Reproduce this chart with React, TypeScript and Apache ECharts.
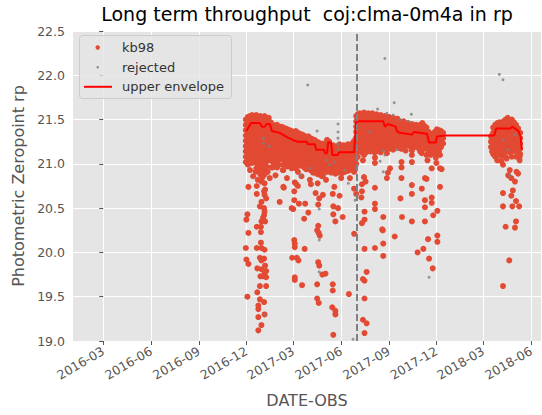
import React, { useEffect, useRef } from "react";
import * as echarts from "echarts";

// ---------- DATA ----------
const xTickLabels = ["2016-03", "2016-06", "2016-09", "2016-12", "2017-03", "2017-06", "2017-09", "2017-12", "2018-03", "2018-06"];
const yTicks = [19.0, 19.5, 20.0, 20.5, 21.0, 21.5, 22.0, 22.5];
const xStartDate = "2016-01-03";
const xEndDate = "2018-06-20";
const cutoverDate = "2017-07-01";

// dense kb98 measurements: [date, values on that night-group]
const kb98Dense: Array<[string, number[]]> = [
  ["2016-11-30", [21.50, 21.44, 21.38, 21.32, 21.26, 21.20, 21.14, 21.08, 21.02]],
  ["2016-12-04", [21.53, 21.47, 21.41, 21.35, 21.29, 21.23, 21.17, 21.11, 21.05, 20.99]],
  ["2016-12-08", [21.54, 21.48, 21.42, 21.36, 21.30, 21.24, 21.18, 21.12, 21.06]],
  ["2016-12-12", [21.55, 21.49, 21.43, 21.37, 21.31, 21.25, 21.19, 21.13, 21.07, 21.01]],
  ["2016-12-16", [21.52, 21.46, 21.40, 21.34, 21.28, 21.22, 21.16, 21.10, 21.04]],
  ["2016-12-20", [21.55, 21.49, 21.43, 21.37, 21.31, 21.25, 21.19, 21.13, 21.07, 21.01, 20.95]],
  ["2016-12-24", [21.52, 21.46, 21.40, 21.34, 21.28, 21.22, 21.16, 21.10, 21.04, 20.98, 20.92]],
  ["2016-12-28", [21.54, 21.48, 21.42, 21.36, 21.30, 21.24, 21.18, 21.12, 21.06, 21.00, 20.94, 20.88]],
  ["2017-01-01", [21.51, 21.45, 21.39, 21.33, 21.27, 21.21, 21.15, 21.09, 21.03, 20.97, 20.91, 20.85]],
  ["2017-01-05", [21.54, 21.48, 21.42, 21.36, 21.30, 21.24, 21.18, 21.12, 21.06, 21.00, 20.94, 20.88]],
  ["2017-01-09", [21.51, 21.45, 21.39, 21.33, 21.27, 21.21, 21.15, 21.09, 21.03, 20.97]],
  ["2017-01-13", [21.52, 21.46, 21.40, 21.34, 21.28, 21.22, 21.16, 21.10, 21.04]],
  ["2017-01-17", [21.47, 21.41, 21.35, 21.29, 21.23, 21.17, 21.11, 21.05]],
  ["2017-01-21", [21.44, 21.38, 21.32, 21.26, 21.20, 21.14, 21.08, 21.02, 20.96]],
  ["2017-01-25", [21.43, 21.37, 21.31, 21.25, 21.19, 21.13, 21.07, 21.01]],
  ["2017-01-29", [21.44, 21.38, 21.32, 21.26, 21.20, 21.14, 21.08, 21.02, 20.96]],
  ["2017-02-02", [21.41, 21.35, 21.29, 21.23, 21.17, 21.11, 21.05, 20.99]],
  ["2017-02-06", [21.42, 21.36, 21.30, 21.24, 21.18, 21.12, 21.06]],
  ["2017-02-10", [21.41, 21.35, 21.29, 21.23, 21.17, 21.11, 21.05, 20.99, 20.93]],
  ["2017-02-14", [21.40, 21.34, 21.28, 21.22, 21.16, 21.10, 21.04]],
  ["2017-02-18", [21.39, 21.33, 21.27, 21.21, 21.15, 21.09, 21.03, 20.97]],
  ["2017-02-22", [21.38, 21.32, 21.26, 21.20, 21.14, 21.08, 21.02]],
  ["2017-02-26", [21.37, 21.31, 21.25, 21.19, 21.13, 21.07, 21.01, 20.95]],
  ["2017-03-02", [21.36, 21.30, 21.24, 21.18, 21.12, 21.06, 21.00]],
  ["2017-03-06", [21.37, 21.31, 21.25, 21.19, 21.13, 21.07, 21.01, 20.95]],
  ["2017-03-10", [21.35, 21.29, 21.23, 21.17, 21.11, 21.05, 20.99]],
  ["2017-03-14", [21.34, 21.28, 21.22, 21.16, 21.10, 21.04, 20.98]],
  ["2017-03-18", [21.33, 21.27, 21.21, 21.15, 21.09, 21.03]],
  ["2017-03-22", [21.32, 21.26, 21.20, 21.14, 21.08, 21.02, 20.96]],
  ["2017-03-26", [21.30, 21.24, 21.18, 21.12, 21.06, 21.00, 20.94]],
  ["2017-03-30", [21.31, 21.25, 21.19, 21.13, 21.07, 21.01, 20.95]],
  ["2017-04-03", [21.29, 21.23, 21.17, 21.11, 21.05, 20.99, 20.93]],
  ["2017-04-07", [21.28, 21.22, 21.16, 21.10, 21.04, 20.98, 20.92]],
  ["2017-04-11", [21.27, 21.21, 21.15, 21.09, 21.03, 20.97, 20.91]],
  ["2017-04-15", [21.25, 21.19, 21.13, 21.07, 21.01, 20.95, 20.89]],
  ["2017-04-19", [21.24, 21.18, 21.12, 21.06, 21.00, 20.94, 20.88]],
  ["2017-04-23", [21.22, 21.16, 21.10, 21.04, 20.98, 20.92]],
  ["2017-04-27", [21.23, 21.17, 21.11, 21.05, 20.99, 20.93, 20.87]],
  ["2017-05-01", [21.22, 21.16, 21.10, 21.04, 20.98, 20.92]],
  ["2017-05-05", [21.27, 21.21, 21.15, 21.09, 21.03, 20.97, 20.91]],
  ["2017-05-09", [21.25, 21.19, 21.13, 21.07, 21.01, 20.95]],
  ["2017-05-13", [21.20, 21.14, 21.08, 21.02, 20.96, 20.90]],
  ["2017-05-17", [21.21, 21.15, 21.09, 21.03, 20.97, 20.91]],
  ["2017-05-21", [21.19, 21.13, 21.07, 21.01, 20.95, 20.89]],
  ["2017-05-25", [21.20, 21.14, 21.08, 21.02, 20.96, 20.90]],
  ["2017-05-29", [21.22, 21.16, 21.10, 21.04, 20.98, 20.92]],
  ["2017-06-02", [21.19, 21.13, 21.07, 21.01, 20.95, 20.89]],
  ["2017-06-06", [21.21, 21.15, 21.09, 21.03, 20.97, 20.91]],
  ["2017-06-10", [21.20, 21.14, 21.08, 21.02, 20.96]],
  ["2017-06-14", [21.22, 21.16, 21.10, 21.04, 20.98, 20.92]],
  ["2017-06-18", [21.21, 21.15, 21.09, 21.03, 20.97]],
  ["2017-06-22", [21.23, 21.17, 21.11, 21.05, 20.99, 20.93]],
  ["2017-06-26", [21.26, 21.20, 21.14, 21.08, 21.02, 20.96]],
  ["2017-06-30", [21.54, 21.48, 21.42, 21.36, 21.30, 21.24, 21.18, 21.12, 21.06, 21.00]],
  ["2017-07-03", [21.56, 21.50, 21.44, 21.38, 21.32, 21.26, 21.20, 21.14, 21.08]],
  ["2017-07-07", [21.57, 21.51, 21.45, 21.39, 21.33, 21.27, 21.21, 21.15]],
  ["2017-07-11", [21.55, 21.49, 21.43, 21.37, 21.31, 21.25, 21.19, 21.13]],
  ["2017-07-15", [21.58, 21.52, 21.46, 21.40, 21.34, 21.28, 21.22, 21.16, 21.10]],
  ["2017-07-19", [21.55, 21.49, 21.43, 21.37, 21.31, 21.25, 21.19, 21.13]],
  ["2017-07-23", [21.57, 21.51, 21.45, 21.39, 21.33, 21.27, 21.21, 21.15]],
  ["2017-07-27", [21.56, 21.50, 21.44, 21.38, 21.32, 21.26, 21.20, 21.14]],
  ["2017-07-31", [21.57, 21.51, 21.45, 21.39, 21.33, 21.27, 21.21, 21.15]],
  ["2017-08-04", [21.55, 21.49, 21.43, 21.37, 21.31, 21.25, 21.19, 21.13]],
  ["2017-08-08", [21.56, 21.50, 21.44, 21.38, 21.32, 21.26, 21.20, 21.14]],
  ["2017-08-12", [21.54, 21.48, 21.42, 21.36, 21.30, 21.24, 21.18]],
  ["2017-08-16", [21.55, 21.49, 21.43, 21.37, 21.31, 21.25, 21.19, 21.13]],
  ["2017-08-20", [21.53, 21.47, 21.41, 21.35, 21.29, 21.23, 21.17]],
  ["2017-08-24", [21.54, 21.48, 21.42, 21.36, 21.30, 21.24, 21.18]],
  ["2017-08-28", [21.52, 21.46, 21.40, 21.34, 21.28, 21.22, 21.16]],
  ["2017-09-01", [21.53, 21.47, 21.41, 21.35, 21.29, 21.23, 21.17]],
  ["2017-09-05", [21.51, 21.45, 21.39, 21.33, 21.27, 21.21]],
  ["2017-09-09", [21.52, 21.46, 21.40, 21.34, 21.28, 21.22, 21.16]],
  ["2017-09-13", [21.50, 21.44, 21.38, 21.32, 21.26, 21.20]],
  ["2017-09-17", [21.51, 21.45, 21.39, 21.33, 21.27, 21.21]],
  ["2017-09-21", [21.48, 21.42, 21.36, 21.30, 21.24, 21.18]],
  ["2017-09-25", [21.47, 21.41, 21.35, 21.29, 21.23, 21.17]],
  ["2017-09-29", [21.48, 21.42, 21.36, 21.30, 21.24, 21.18]],
  ["2017-10-03", [21.45, 21.39, 21.33, 21.27, 21.21, 21.15]],
  ["2017-10-07", [21.46, 21.40, 21.34, 21.28, 21.22]],
  ["2017-10-11", [21.44, 21.38, 21.32, 21.26, 21.20]],
  ["2017-10-15", [21.45, 21.39, 21.33, 21.27, 21.21, 21.15]],
  ["2017-10-19", [21.43, 21.37, 21.31, 21.25, 21.19]],
  ["2017-10-23", [21.44, 21.38, 21.32, 21.26, 21.20]],
  ["2017-10-27", [21.42, 21.36, 21.30, 21.24, 21.18]],
  ["2017-10-31", [21.44, 21.38, 21.32, 21.26, 21.20, 21.14]],
  ["2017-11-04", [21.46, 21.40, 21.34, 21.28, 21.22, 21.16]],
  ["2017-11-08", [21.43, 21.37, 21.31, 21.25, 21.19]],
  ["2017-11-12", [21.41, 21.35, 21.29, 21.23, 21.17]],
  ["2017-11-16", [21.36, 21.30, 21.24, 21.18, 21.12]],
  ["2017-11-20", [21.34, 21.28, 21.22, 21.16, 21.10]],
  ["2017-11-24", [21.33, 21.27, 21.21, 21.15]],
  ["2017-11-28", [21.36, 21.30, 21.24, 21.18, 21.12]],
  ["2017-12-02", [21.39, 21.33, 21.27, 21.21, 21.15]],
  ["2017-12-06", [21.38, 21.32, 21.26, 21.20, 21.14]],
  ["2017-12-10", [21.37, 21.31, 21.25, 21.19]],
  ["2017-12-14", [21.35, 21.29, 21.23]],
  ["2018-03-16", [21.31, 21.25, 21.19]],
  ["2018-03-20", [21.41, 21.35, 21.29, 21.23, 21.17, 21.11]],
  ["2018-03-24", [21.44, 21.38, 21.32, 21.26, 21.20, 21.14, 21.08]],
  ["2018-03-28", [21.46, 21.40, 21.34, 21.28, 21.22, 21.16, 21.10, 21.04]],
  ["2018-04-01", [21.47, 21.41, 21.35, 21.29, 21.23, 21.17, 21.11]],
  ["2018-04-05", [21.45, 21.39, 21.33, 21.27, 21.21, 21.15, 21.09, 21.03]],
  ["2018-04-09", [21.48, 21.42, 21.36, 21.30, 21.24, 21.18, 21.12]],
  ["2018-04-13", [21.50, 21.44, 21.38, 21.32, 21.26, 21.20, 21.14, 21.08]],
  ["2018-04-17", [21.52, 21.46, 21.40, 21.34, 21.28, 21.22, 21.16]],
  ["2018-04-21", [21.49, 21.43, 21.37, 21.31, 21.25, 21.19, 21.13]],
  ["2018-04-25", [21.50, 21.44, 21.38, 21.32, 21.26, 21.20, 21.14, 21.08]],
  ["2018-04-29", [21.47, 21.41, 21.35, 21.29, 21.23, 21.17]],
  ["2018-05-03", [21.44, 21.38, 21.32, 21.26, 21.20, 21.14, 21.08]],
  ["2018-05-07", [21.40, 21.34, 21.28, 21.22, 21.16]],
  ["2018-05-11", [21.35, 21.29, 21.23, 21.17, 21.11]],
];

// individual kb98 measurements away from the dense band
const kb98Sparse: Array<[string, number]> = [
  ["2016-12-05", 20.74], ["2016-12-21", 20.75], ["2016-12-30", 20.80], ["2017-01-05", 20.78], ["2017-01-06", 20.71],
  ["2017-01-04", 20.69], ["2017-01-05", 20.65], ["2017-01-08", 20.61], ["2016-12-30", 20.57], ["2016-12-27", 20.52],
  ["2017-01-04", 20.50], ["2017-01-05", 20.46], ["2017-01-04", 20.42], ["2017-01-02", 20.39], ["2016-12-30", 20.35],
  ["2017-01-06", 20.35], ["2016-12-29", 20.29], ["2016-12-21", 20.29], ["2016-12-29", 20.23], ["2016-12-21", 20.66],
  ["2017-02-03", 20.57], ["2017-02-11", 20.73], ["2017-03-03", 20.59], ["2017-03-01", 20.49], ["2017-03-04", 20.79],
  ["2017-03-03", 20.69], ["2016-12-03", 20.43], ["2016-12-01", 20.37], ["2016-12-05", 20.22], ["2016-12-29", 20.11],
  ["2016-12-21", 20.05], ["2016-12-30", 20.05], ["2017-01-05", 20.03], ["2016-12-27", 19.94], ["2017-01-04", 19.93],
  ["2016-12-30", 19.91], ["2017-01-06", 19.85], ["2016-12-22", 19.82], ["2016-12-30", 19.81], ["2017-01-08", 19.79],
  ["2017-01-05", 19.76], ["2016-12-28", 19.73], ["2017-01-08", 19.72], ["2017-01-08", 19.62], ["2016-12-27", 19.62],
  ["2016-12-22", 19.55], ["2016-12-27", 19.47], ["2016-12-24", 19.40], ["2016-12-24", 19.36], ["2017-01-04", 19.44],
  ["2017-01-05", 19.30], ["2016-12-24", 19.27], ["2016-12-30", 19.18], ["2016-12-24", 19.12], ["2016-11-30", 20.05],
  ["2016-12-01", 19.92], ["2016-12-05", 19.87], ["2016-12-03", 19.50], ["2017-03-03", 20.14], ["2017-03-04", 20.06],
  ["2017-02-27", 19.94], ["2017-03-08", 19.94], ["2017-03-04", 19.72], ["2017-03-04", 19.69], ["2017-01-03", 19.73],
  ["2017-03-23", 20.04], ["2017-03-11", 19.91], ["2017-03-18", 19.63], ["2017-04-16", 20.25], ["2017-04-21", 20.19],
  ["2017-04-19", 20.22], ["2017-04-18", 19.89], ["2017-04-20", 19.85], ["2017-04-26", 19.75], ["2017-05-02", 19.76],
  ["2017-04-16", 19.64], ["2017-05-16", 19.64], ["2017-05-16", 19.57], ["2017-04-16", 19.48], ["2017-04-19", 19.43],
  ["2017-05-15", 19.38], ["2017-05-21", 19.34], ["2017-05-21", 19.30], ["2017-05-17", 19.07], ["2017-06-16", 19.53],
  ["2017-06-26", 20.21], ["2017-07-16", 20.04], ["2017-08-05", 20.05], ["2017-08-21", 20.10], ["2017-08-20", 20.25],
  ["2017-09-12", 20.18], ["2017-08-21", 19.96], ["2017-07-20", 19.78], ["2017-07-13", 19.70], ["2017-07-16", 19.68],
  ["2017-07-16", 19.48], ["2017-07-13", 19.24], ["2017-07-20", 19.20], ["2017-07-16", 19.09], ["2017-11-15", 20.15],
  ["2017-12-03", 20.19], ["2017-12-03", 20.12], ["2017-11-06", 20.04], ["2017-10-26", 20.00], ["2017-11-17", 19.93],
  ["2017-11-24", 19.82], ["2017-03-07", 20.77], ["2017-04-04", 20.77], ["2017-04-17", 20.78], ["2017-05-19", 20.74],
  ["2017-05-16", 20.66], ["2017-05-29", 20.64], ["2017-04-13", 20.67], ["2017-04-27", 20.65], ["2017-04-20", 20.61],
  ["2017-04-18", 20.54], ["2017-03-12", 20.55], ["2017-03-24", 20.55], ["2017-05-17", 20.52], ["2017-05-26", 20.50],
  ["2017-03-30", 20.45], ["2017-05-17", 20.43], ["2017-03-22", 20.38], ["2017-06-04", 20.40], ["2017-05-21", 20.35],
  ["2017-04-18", 20.30], ["2017-03-04", 20.10], ["2017-07-11", 20.77], ["2017-06-26", 20.72], ["2017-06-30", 20.66],
  ["2017-07-11", 20.69], ["2017-07-10", 20.62], ["2017-08-05", 20.73], ["2017-08-05", 20.55], ["2017-08-05", 20.49],
  ["2017-10-15", 20.76], ["2017-10-15", 20.66], ["2017-11-03", 20.72], ["2017-12-08", 20.74], ["2017-09-23", 20.61],
  ["2017-11-09", 20.51], ["2017-11-09", 20.59], ["2017-11-22", 20.56], ["2017-11-22", 20.62], ["2017-07-16", 20.46],
  ["2017-07-16", 20.37], ["2017-07-11", 20.33], ["2017-08-21", 20.40], ["2017-09-26", 20.40], ["2017-10-15", 20.35],
  ["2017-11-09", 20.35], ["2017-11-25", 20.42], ["2017-12-03", 20.47], ["2017-08-19", 20.26], ["2017-06-24", 21.14],
  ["2017-07-13", 21.04], ["2017-08-05", 21.07], ["2017-08-05", 21.01], ["2017-08-28", 21.12], ["2017-09-03", 20.95],
  ["2017-08-30", 20.90], ["2017-09-22", 21.18], ["2017-09-25", 21.02], ["2017-09-25", 20.96], ["2017-10-15", 21.10],
  ["2017-10-15", 21.02], ["2017-11-03", 21.19], ["2017-11-03", 21.12], ["2017-11-12", 21.10], ["2017-11-14", 21.04],
  ["2017-11-29", 21.12], ["2017-11-30", 21.07], ["2017-12-01", 21.01], ["2017-12-08", 21.10], ["2017-12-08", 20.95],
  ["2017-11-22", 20.95], ["2017-12-11", 20.94], ["2017-11-12", 20.83], ["2017-11-09", 20.84], ["2017-09-25", 20.84],
  ["2017-08-28", 20.84], ["2017-07-15", 20.85], ["2017-07-18", 20.80], ["2017-06-27", 20.97], ["2017-06-27", 21.04],
  ["2017-06-26", 20.91], ["2016-12-08", 20.93], ["2016-12-14", 20.86], ["2016-12-19", 20.91], ["2016-12-23", 20.82],
  ["2017-01-11", 20.91], ["2017-01-15", 20.84], ["2017-01-18", 20.96], ["2017-01-26", 20.87], ["2017-02-09", 20.93],
  ["2017-02-17", 20.84], ["2017-02-21", 20.98], ["2017-03-10", 20.91], ["2017-03-17", 20.86], ["2017-03-25", 20.95],
  ["2017-04-02", 20.82], ["2017-04-08", 20.90], ["2017-04-25", 20.86], ["2017-05-03", 20.82], ["2017-05-10", 20.93],
  ["2017-06-01", 20.84], ["2017-06-08", 20.91], ["2017-06-18", 20.84], ["2017-02-26", 20.50], ["2017-02-10", 20.74],
  ["2017-03-10", 20.75], ["2018-04-08", 20.99], ["2018-04-15", 21.06], ["2018-04-21", 20.93], ["2018-04-18", 20.87],
  ["2018-04-24", 20.84], ["2018-05-01", 20.80], ["2018-05-04", 20.91], ["2018-05-07", 20.89], ["2018-05-10", 21.08],
  ["2018-05-10", 21.04], ["2018-04-27", 20.70], ["2018-04-08", 20.67], ["2018-04-24", 20.64], ["2018-05-03", 20.58],
  ["2018-04-08", 20.52], ["2018-04-26", 20.52], ["2018-05-09", 20.52], ["2018-05-03", 20.35], ["2018-04-13", 20.29],
  ["2018-05-01", 20.28], ["2018-04-20", 19.91], ["2018-04-08", 19.62], ["2018-03-18", 21.27], ["2018-03-18", 21.14],
];

// rejected measurements
const rejected: Array<[string, number]> = [
  ["2017-03-29", 21.89], ["2017-08-24", 22.19], ["2018-04-01", 22.01], ["2018-04-08", 21.95], ["2017-08-10", 21.62],
  ["2017-09-11", 21.69], ["2017-09-09", 21.55], ["2017-09-22", 21.50], ["2017-10-14", 21.56], ["2017-10-08", 21.48],
  ["2017-08-28", 21.57], ["2017-07-26", 21.36], ["2017-08-21", 21.15], ["2017-08-15", 21.03], ["2017-08-21", 20.91],
  ["2017-09-16", 21.16], ["2017-05-26", 21.45], ["2017-05-26", 21.36], ["2017-05-26", 21.29], ["2017-05-26", 21.22],
  ["2017-05-26", 21.16], ["2017-04-16", 21.37], ["2017-05-20", 21.02], ["2017-01-03", 21.29], ["2017-01-03", 21.23],
  ["2017-01-14", 21.20], ["2017-05-04", 21.04], ["2017-05-10", 20.99], ["2017-06-15", 20.78], ["2017-06-28", 20.59],
  ["2017-04-20", 20.49], ["2017-04-20", 20.14], ["2017-04-20", 19.78], ["2017-06-24", 19.02], ["2017-01-05", 19.30],
  ["2017-11-17", 19.72], ["2018-04-21", 20.87], ["2018-04-17", 21.16], ["2018-04-08", 21.27], ["2018-05-01", 21.33],
  ["2017-04-02", 20.95], ["2017-03-14", 20.87], ["2017-06-08", 20.93], ["2017-08-24", 21.10],
];

// upper envelope
const envelope: Array<[string, number]> = [
  ["2016-12-01", 21.37], ["2016-12-10", 21.46], ["2016-12-27", 21.46], ["2016-12-31", 21.42], ["2017-01-05", 21.42],
  ["2017-01-09", 21.45], ["2017-01-15", 21.45], ["2017-01-19", 21.37], ["2017-02-03", 21.35], ["2017-02-18", 21.30],
  ["2017-02-28", 21.27], ["2017-03-10", 21.25], ["2017-03-27", 21.25], ["2017-03-29", 21.22], ["2017-04-12", 21.22],
  ["2017-04-14", 21.16], ["2017-04-29", 21.16], ["2017-05-01", 21.12], ["2017-05-05", 21.12], ["2017-05-07", 21.24],
  ["2017-05-13", 21.24], ["2017-05-15", 21.10], ["2017-05-26", 21.10], ["2017-05-28", 21.13], ["2017-06-26", 21.13],
  ["2017-06-30", 21.48], ["2017-08-21", 21.48], ["2017-08-24", 21.42], ["2017-08-30", 21.45], ["2017-09-14", 21.42],
  ["2017-09-16", 21.37], ["2017-09-22", 21.35], ["2017-10-15", 21.33], ["2017-10-19", 21.36], ["2017-11-13", 21.34],
  ["2017-11-17", 21.24], ["2017-11-30", 21.24], ["2017-12-02", 21.31], ["2017-12-17", 21.32], ["2018-03-22", 21.32],
  ["2018-03-26", 21.40], ["2018-04-22", 21.40], ["2018-04-26", 21.42], ["2018-05-08", 21.37], ["2018-05-12", 21.30],
  ["2018-05-14", 21.16],
];

// ---------- HELPERS ----------
const ORIGIN = Date.UTC(2016, 2, 1);
const dayNum = (s: string) => {
  const p = s.split("-").map(Number);
  return (Date.UTC(p[0], p[1] - 1, p[2] || 1) - ORIGIN) / 86400000;
};

const FONT = "DejaVu Sans";
const GREY = "#555555";

export default function App() {
  const ref = useRef<HTMLDivElement>(null);
  useEffect(() => {
    if (!ref.current) return;
    const chart = echarts.init(ref.current, undefined, { renderer: "svg" });

    const kbData: number[][] = [];
    kb98Dense.forEach(([d, vals]) => vals.forEach((v) => kbData.push([dayNum(d), v])));
    kb98Sparse.forEach(([d, v]) => kbData.push([dayNum(d), v]));
    const rejData = rejected.map(([d, v]) => [dayNum(d), v]);
    const envData = envelope.map(([d, v]) => [dayNum(d), v]);
    const tickVals = xTickLabels.map((l) => dayNum(l + "-01"));
    const labelFor = (v: number) => {
      const i = tickVals.findIndex((t) => Math.abs(t - v) < 0.01);
      return i >= 0 ? xTickLabels[i] : "";
    };
    const legendFont = `13px "${FONT}"`;

    chart.setOption({
      animation: false,
      backgroundColor: "#ffffff",
      title: {
        text: "Long term throughput  coj:clma-0m4a in rp",
        left: 307,
        top: 4,
        padding: 0,
        textAlign: "center",
        textStyle: { fontFamily: FONT, fontSize: 19, fontWeight: "normal", color: "#000000" },
      },
      grid: {
        left: 73, right: 1, top: 31, bottom: 74,
        show: true, backgroundColor: "#E5E5E5", borderWidth: 0,
      },
      xAxis: {
        type: "value",
        min: dayNum(xStartDate),
        max: dayNum(xEndDate),
        name: "DATE-OBS",
        nameLocation: "middle",
        nameGap: 51,
        nameTextStyle: { fontFamily: FONT, fontSize: 16, color: GREY },
        axisLine: { show: false },
        axisTick: { show: true, length: 4, lineStyle: { color: GREY, width: 1 }, customValues: tickVals },
        axisLabel: {
          customValues: tickVals,
          rotate: 30, margin: 9,
          fontFamily: FONT, fontSize: 12.5, color: GREY,
          formatter: (v: number) => labelFor(v),
        },
        splitLine: { show: true, lineStyle: { color: "#ffffff", width: 1 } },
      },
      yAxis: {
        type: "value",
        min: yTicks[0],
        max: yTicks[yTicks.length - 1],
        interval: 0.5,
        name: "Photometric Zeropoint rp",
        nameLocation: "middle",
        nameGap: 45,
        nameTextStyle: { fontFamily: FONT, fontSize: 16, color: GREY },
        axisLine: { show: false },
        axisTick: { show: true, length: 4, lineStyle: { color: GREY, width: 1 } },
        axisLabel: { margin: 8, fontFamily: FONT, fontSize: 12.5, color: GREY, formatter: (v: number) => v.toFixed(1) },
        splitLine: { show: true, lineStyle: { color: "#ffffff", width: 1 } },
      },
      series: [
        {
          name: "kb98", type: "scatter", data: kbData, symbolSize: 6, silent: true,
          itemStyle: { color: "#E24A33", opacity: 1 }, z: 2,
        },
        {
          name: "rejected", type: "scatter", data: rejData, symbolSize: 3, silent: true,
          itemStyle: { color: "#808080" }, z: 3,
        },
        {
          name: "upper envelope", type: "line", data: envData, showSymbol: false, symbol: "none", silent: true,
          lineStyle: { color: "#ff0000", width: 2 }, z: 4,
          markLine: {
            silent: true, symbol: "none", label: { show: false },
            lineStyle: { color: "#808080", width: 2, type: [7, 3] },
            data: [{ xAxis: dayNum(cutoverDate) }],
            z: 5,
          },
        },
      ],
      graphic: [
        { type: "rect", z: 100, shape: { x: 79.5, y: 35.5, width: 152, height: 63, r: 3 },
          style: { fill: "rgba(229,229,229,0.8)", stroke: "#cccccc", lineWidth: 1 } },
        { type: "circle", z: 101, shape: { cx: 97.7, cy: 47.5, r: 2.2 }, style: { fill: "#E24A33" } },
        { type: "text", z: 101, x: 122, y: 47.5, style: { text: "kb98", font: legendFont, fill: "#333333", verticalAlign: "middle" } },
        { type: "circle", z: 101, shape: { cx: 97.7, cy: 67.2, r: 1.2 }, style: { fill: "#808080" } },
        { type: "text", z: 101, x: 122, y: 67.2, style: { text: "rejected", font: legendFont, fill: "#333333", verticalAlign: "middle" } },
        { type: "line", z: 101, shape: { x1: 84, y1: 86.8, x2: 112, y2: 86.8 }, style: { stroke: "#ff0000", lineWidth: 2 } },
        { type: "text", z: 101, x: 122, y: 86.8, style: { text: "upper envelope", font: legendFont, fill: "#333333", verticalAlign: "middle" } },
      ],
    });
    return () => chart.dispose();
  }, []);
  return <div ref={ref} style={{ width: 542, height: 415, position: "absolute", left: 0, top: 0 }} />;
}
